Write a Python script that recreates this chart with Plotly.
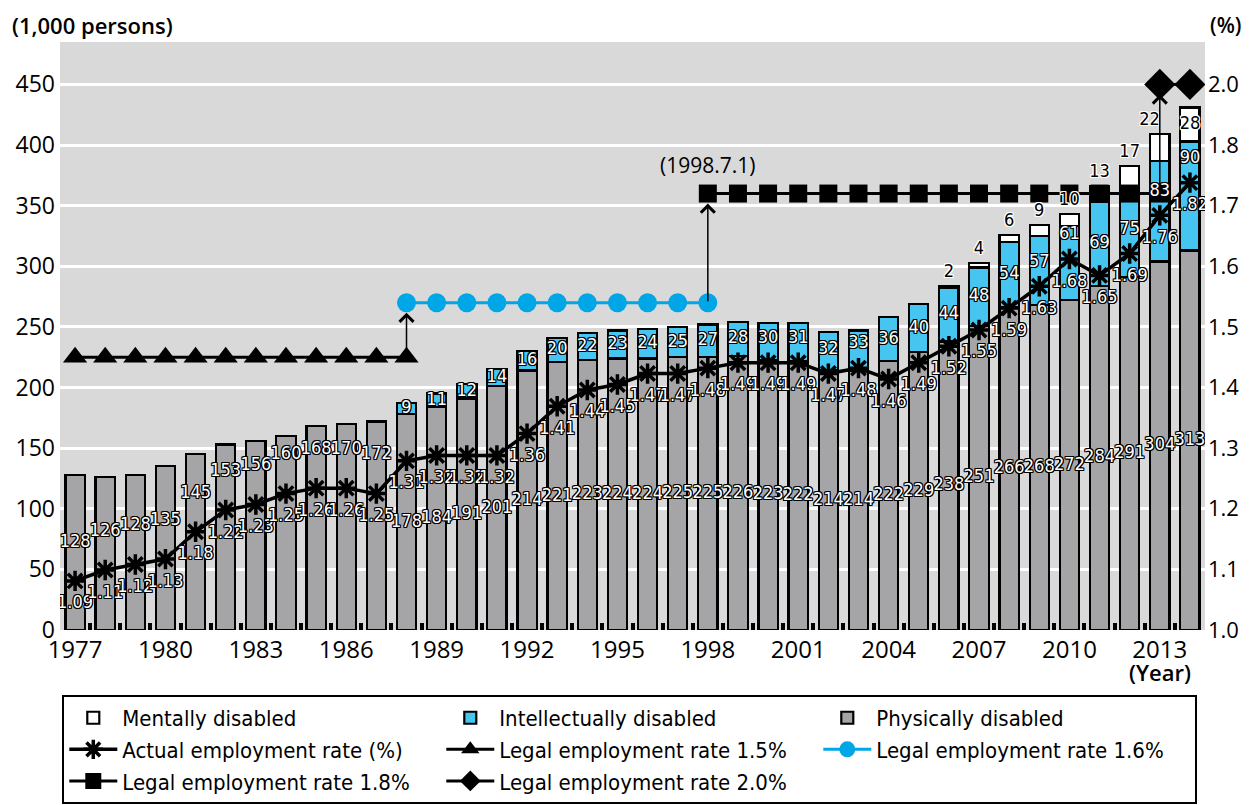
import plotly.graph_objects as go

# ---------------- data ----------------
years = list(range(1977, 2015))
physically = [128, 126, 128, 135, 145, 153, 156, 160, 168, 170, 172,
              178, 184, 191, 201, 214, 221, 223, 224, 224, 225, 225,
              226, 223, 222, 214, 214, 222, 229, 238, 251, 266,
              268, 272, 284, 291, 304, 313]
intellectually = [None] * 11 + [9, 11, 12, 14, 16, 20, 22, 23, 24, 25, 27,
                                28, 30, 31, 32, 33, 36, 40, 44, 48, 54,
                                57, 61, 69, 75, 83, 90]
mentally = [None] * 29 + [2, 4, 6, 9, 10, 13, 17, 22, 28]
actual_rate = [1.09, 1.11, 1.12, 1.13, 1.18, 1.22, 1.23, 1.25, 1.26, 1.26, 1.25,
               1.31, 1.32, 1.32, 1.32, 1.36, 1.41, 1.44, 1.45, 1.47, 1.47, 1.48,
               1.49, 1.49, 1.49, 1.47, 1.48, 1.46, 1.49, 1.52, 1.55, 1.59,
               1.63, 1.68, 1.65, 1.69, 1.76, 1.82]
legal_rates = [1.5, 1.6, 1.8, 2.0]
legal_start = [1977, 1988, 1998, 2013]
legal_end = [1988, 1998, 2013, 2014]
legal_names = ["Legal employment rate 1.5%", "Legal employment rate 1.6%",
               "Legal employment rate 1.8%", "Legal employment rate 2.0%"]
left_ticks = list(range(0, 451, 50))
right_tick_labels = ["1.0", "1.1", "1.2", "1.3", "1.4", "1.5", "1.6", "1.7", "1.8", "2.0"]
x_tick_years = list(range(1977, 2014, 3))

# ---------------- styling ----------------
FONT = "Open Sans, Noto Sans, sans-serif"
NARROW = "DejaVu Sans Condensed, Roboto, sans-serif"
OUTLINE_BLACK = ("1px 1px 0 #000, -1px -1px 0 #000, 1px -1px 0 #000, -1px 1px 0 #000, "
                 "0 1px 0 #000, 0 -1px 0 #000, 1px 0 0 #000, -1px 0 0 #000")
OUTLINE_WHITE = OUTLINE_BLACK.replace("#000", "#fff")
BAR_LINE = dict(color="black", width=2.2)
LEFT_MAX = 485.0
SCALE = 450.0  # left units per 1.0 of rate (rate axis 1.0 -> 2.0 spans 0 -> 450)
LABEL_SIZE = 18


def to_rate(v):
    return 1.0 + v / SCALE


def to_left(r):
    return (r - 1.0) * SCALE


fig = go.Figure()

# stacked bars
fig.add_trace(go.Bar(x=years, y=physically, name="Physically disabled",
                     marker=dict(color="#a5a5a8", line=BAR_LINE), legendrank=3))
fig.add_trace(go.Bar(x=years, y=intellectually, name="Intellectually disabled",
                     marker=dict(color="#45c5f0", line=BAR_LINE), legendrank=2))
fig.add_trace(go.Bar(x=years, y=mentally, name="Mentally disabled",
                     marker=dict(color="white", line=BAR_LINE), legendrank=1))

# legal employment rate lines
legal_styles = [
    dict(symbol="triangle-up", size=21, color="black"),
    dict(symbol="circle", size=19, color="#00a6e6"),
    dict(symbol="square", size=18, color="black"),
    dict(symbol="diamond", size=24, color="black"),
]
legal_ranks = [5, 6, 7, 8]
for rate, s, e, nm, st, rk in zip(legal_rates, legal_start, legal_end, legal_names, legal_styles, legal_ranks):
    xs = list(range(s, e + 1))
    fig.add_trace(go.Scatter(
        x=xs, y=[rate] * len(xs), yaxis="y2", mode="lines+markers", name=nm,
        line=dict(color=st["color"], width=3),
        marker=dict(symbol=st["symbol"], size=st["size"], color=st["color"]),
        legendrank=rk))

# actual employment rate
fig.add_trace(go.Scatter(
    x=years, y=actual_rate, yaxis="y2", mode="lines+markers",
    name="Actual employment rate (%)",
    line=dict(color="black", width=3.5),
    marker=dict(symbol="asterisk-open", size=17, color="black",
                line=dict(color="black", width=3.5)),
    legendrank=4))

# ---------------- data labels ----------------
label_font_w = dict(family=NARROW, size=LABEL_SIZE, color="white", shadow=OUTLINE_BLACK)

# physically disabled labels
phys_y = []
for p, it, r in zip(physically, intellectually, actual_rate):
    if it is None:
        phys_y.append(to_rate(to_left(r) + 32))
    else:
        phys_y.append(to_rate(p / 2.0))
fig.add_trace(go.Scatter(
    x=years, y=phys_y, yaxis="y2", mode="text", text=[str(v) for v in physically],
    textposition="middle center", showlegend=False, hoverinfo="skip",
    textfont=label_font_w))

# intellectually disabled labels
ix, iy, it_txt = [], [], []
for yr, p, it, r in zip(years, physically, intellectually, actual_rate):
    if it is None:
        continue
    ix.append(yr)
    iy.append(to_rate(max(p + it / 2.0, to_left(r) + 20)))
    it_txt.append(str(it))
fig.add_trace(go.Scatter(
    x=ix, y=iy, yaxis="y2", mode="text", text=it_txt,
    textposition="middle center", showlegend=False, hoverinfo="skip",
    textfont=label_font_w))

# mentally disabled labels
mx, my, m_txt, m_pos = [], [], [], []
for yr, p, it, m in zip(years, physically, intellectually, mentally):
    if m is None:
        continue
    top = p + it + m
    mx.append(yr)
    if m >= 25:
        my.append(to_rate(top - m / 2.0))
    else:
        my.append(to_rate(top + 11))
    m_txt.append(str(m))
    m_pos.append("middle left" if yr == legal_start[3] else "middle center")
fig.add_trace(go.Scatter(
    x=mx, y=my, yaxis="y2", mode="text", text=m_txt,
    textposition=m_pos, showlegend=False, hoverinfo="skip",
    textfont=dict(family=NARROW, size=LABEL_SIZE, color="black", shadow=OUTLINE_WHITE)))

# actual rate labels
fig.add_trace(go.Scatter(
    x=years, y=[r - 19 / SCALE for r in actual_rate], yaxis="y2", mode="text",
    text=["%.2f" % r for r in actual_rate],
    textposition="middle center", showlegend=False, hoverinfo="skip",
    textfont=label_font_w))

# ---------------- annotations ----------------
annotations = []
for k in range(1, 4):
    annotations.append(dict(
        x=legal_start[k], y=legal_rates[k], xref="x", yref="y2",
        ax=legal_start[k], ay=legal_rates[k - 1], axref="x", ayref="y2",
        text="", showarrow=True, arrowhead=4, arrowsize=1.8, arrowwidth=1.5,
        arrowcolor="black", standoff=10))
annotations.append(dict(x=legal_start[2], y=legal_rates[2], xref="x", yref="y2",
                        text="(1998.7.1)", showarrow=False, yanchor="bottom", yshift=13,
                        font=dict(family=FONT, size=21, color="black")))
annotations.append(dict(x=-0.044, y=1.029, xref="paper", yref="paper", xanchor="left",
                        yanchor="middle", text="(1,000 persons)", showarrow=False,
                        font=dict(family=FONT, size=22, color="black", weight=600)))
annotations.append(dict(x=1.0183, y=1.029, xref="paper", yref="paper", xanchor="center",
                        yanchor="middle", text="(%)", showarrow=False,
                        font=dict(family=FONT, size=21, color="black", weight=600)))
annotations.append(dict(x=2013, y=-0.072, xref="x", yref="paper", xanchor="center",
                        yanchor="middle", text="(Year)", showarrow=False,
                        font=dict(family=FONT, size=22, color="black", weight=600)))

# the page body adds an 8 px offset, so margins are shifted by 8 px to compensate
fig.update_layout(
    width=1242, height=805,
    margin=dict(l=52, r=45, t=34, b=183, autoexpand=False),
    plot_bgcolor="#d9d9d9", paper_bgcolor="white",
    barmode="stack", bargap=0.36,
    font=dict(family=FONT, color="black"),
    showlegend=True,
    legend=dict(orientation="h", x=0.002, xanchor="left", y=-0.1105, yanchor="top",
                bgcolor="white", bordercolor="black", borderwidth=2,
                font=dict(family=NARROW, size=22, color="black"),
                entrywidth=314, itemwidth=48, traceorder="normal", tracegroupgap=0),
    xaxis=dict(range=[1976.5, 2014.5], tickmode="array", tickvals=x_tick_years,
               ticktext=[str(y) for y in x_tick_years], ticks="", showgrid=False,
               zeroline=False, showline=False, automargin=False, ticklabelstandoff=3,
               tickfont=dict(family=FONT, size=24, color="black"),
               minor=dict(tickmode="array", tickvals=[y + 0.5 for y in years[:-1]],
                          ticks="inside", ticklen=7, tickwidth=3.5, tickcolor="black",
                          showgrid=False)),
    yaxis=dict(range=[0, LEFT_MAX], tickmode="array", tickvals=left_ticks,
               showgrid=True, gridcolor="white", gridwidth=2.5, zeroline=False,
               ticks="", ticklabelstandoff=4, automargin=False,
               tickfont=dict(family=FONT, size=23, color="black")),
    yaxis2=dict(range=[1.0, to_rate(LEFT_MAX)], overlaying="y", side="right",
                tickmode="array", tickvals=[to_rate(v) for v in left_ticks],
                ticktext=right_tick_labels, showgrid=False, zeroline=False,
                ticks="", ticklabelstandoff=2, automargin=False,
                tickfont=dict(family=FONT, size=22, color="black")),
    annotations=annotations,
)

fig.write_html("out.html")
